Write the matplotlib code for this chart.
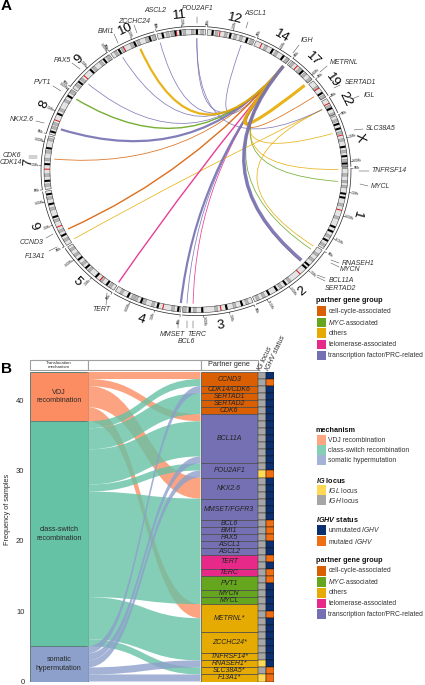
import numpy as np
import matplotlib
matplotlib.use("Agg")
import matplotlib.pyplot as plt
from matplotlib.patches import PathPatch, Rectangle
from matplotlib.path import Path

plt.rcParams["font.family"] = ["Liberation Sans", "DejaVu Sans"]
plt.rcParams["mathtext.fontset"] = "custom"
plt.rcParams["mathtext.rm"] = "Liberation Sans"
plt.rcParams["mathtext.it"] = "Liberation Sans:italic"
plt.rcParams["mathtext.bfit"] = "Liberation Sans:italic:bold"

# circos: chromosomes
chrom_names = ["1", "2", "3", "4", "5", "6", "7", "8", "9", "10", "11", "12", "14", "17", "19", "22", "X"]
chrom_len = [249, 243, 198, 191, 181, 171, 159, 146, 141, 135, 135, 133, 107, 81, 59, 51, 155]
chrom_cen = [125, 93, 91, 50, 48, 60, 60, 45, 48, 40, 54, 35, 18, 24, 26, 15, 60]
chrom_dark = [
    [72, 84, 175, 190, 220],
    [55, 66, 140, 170, 195],
    [28, 72, 140, 175],
    [4, 62, 110, 150],
    [22, 60, 98, 130],
    [28, 88, 128, 158],
    [22, 72, 120],
    [6, 62, 122],
    [22, 70, 118],
    [22, 70, 115],
    [12, 48, 62, 108],
    [12, 62, 110],
    [50, 85],
    [42],
    [40],
    [28],
    [22, 36, 92, 120, 142],
]
chrom_gray = [
    [15, 35, 50, 105, 145, 205, 235],
    [15, 35, 125, 155, 210, 228],
    [12, 48, 100, 160, 188],
    [18, 75, 100, 125, 135, 170],
    [10, 40, 85, 112, 145, 165],
    [12, 42, 75, 112, 145],
    [8, 38, 85, 108, 145],
    [18, 30, 75, 105, 135],
    [10, 32, 80, 105, 130],
    [10, 32, 60, 80, 105, 125],
    [25, 38, 72, 95, 122],
    [22, 48, 75, 92, 122],
    [28, 62, 98],
    [5, 32, 52, 72],
    [18, 50],
    [20, 45],
    [10, 48, 70, 105, 132, 150],
]

# circos: links, one per translocation partner
link_genes = ["TNFRSF14", "MYCL", "RNASEH1", "MYCN", "BCL11A", "SERTAD2", "BCL6", "TERC", "MMSET",
              "TERT", "F13A1", "CCND3", "CDK6", "NKX2.6", "PVT1", "PAX5", "BMI1", "ZCCHC24",
              "ASCL2", "POU2AF1", "POU2AF1", "ASCL1", "METRNL", "SERTAD1", "SLC38A5"]
link_chrom = ["1", "1", "2", "2", "2", "2", "3", "3", "4", "5", "6", "6", "7", "8", "8", "9", "10", "10",
              "11", "11", "11", "12", "17", "19", "X"]
link_mb = [2.5, 40, 3.6, 16, 60.7, 64.8, 187, 169, 1.9, 1.3, 6.2, 41.9, 92, 23.5, 128.8, 37, 22.6, 81,
           2.3, 111, 111, 103, 81, 40, 48]
link_to = ["IGH", "IGH", "IGL", "IGH", "IGH", "IGH", "IGH", "IGH", "IGH", "IGH", "IGL", "IGH", "IGH",
           "IGH", "IGH", "IGH", "IGH", "IGH", "IGH", "IGH", "IGL", "IGH", "IGH", "IGH", "IGH"]
link_n = [1, 1, 1, 1, 7, 1, 1, 1, 3, 2, 1, 2, 1, 3, 2, 1, 1, 3, 1, 1, 1, 1, 4, 1, 1]
link_group = ["others", "myc", "others", "myc", "tf", "cell", "tf", "telo", "tf", "telo", "others", "cell",
              "cell", "tf", "myc", "tf", "tf", "others", "tf", "tf", "tf", "tf", "others", "cell", "others"]
hub_chrom = {"IGH": "14", "IGL": "22"}
hub_mb = {"IGH": 106, "IGL": 22.9}

# sankey: partner genes top to bottom, one letter per sample
gene_names = ["CCND3", "CDK14/CDK6", "SERTAD1", "SERTAD2", "CDK6", "BCL11A", "POU2AF1", "NKX2.6", "MMSET/FGFR3",
              "BCL6", "BMI1", "PAX5", "ASCL1", "ASCL2", "TERT", "TERC", "PVT1", "MYCN", "MYCL",
              "METRNL*", "ZCCHC24*", "TNFRSF14*", "RNASEH1*", "SLC38A5*", "F13A1*"]
gene_group = ["cell"] * 5 + ["tf"] * 9 + ["telo"] * 2 + ["myc"] * 3 + ["others"] * 6
gene_mech = ["VC", "S", "C", "C", "C", "VCCCCCS", "CS", "VVV", "CCC", "C", "C", "C", "C", "C", "CC", "C", "CC",
             "C", "C", "VVCC", "CCC", "C", "S", "C", "S"]
gene_ig = ["HH", "H", "H", "H", "H", "HHHHHHH", "HL", "HHH", "HHH", "H", "H", "H", "H", "H", "HH", "H", "HH",
           "H", "H", "HHHH", "HHH", "H", "L", "H", "L"]
gene_ighv = ["UM", "U", "U", "U", "U", "UUUUUUU", "UM", "UUU", "UUU", "M", "M", "M", "U", "U", "MU", "M", "MU",
             "U", "U", "UMUU", "UUU", "U", "U", "M", "M"]
mech_order = ["V", "C", "S"]
mech_labels = ["VDJ\nrecombination", "class-switch\nrecombination", "somatic\nhypermutation"]
freq_ticks = [0, 10, 20, 30, 40]

# colours
group_colors = {"cell": "#D95F02", "myc": "#66A61E", "others": "#E6AB02", "telo": "#E7298A", "tf": "#7570B3"}
mech_colors = {"V": "#FC8D62", "C": "#66C2A5", "S": "#8DA0CB"}
ig_colors = {"H": "#A6A6A6", "L": "#FFD955"}
ighv_colors = {"U": "#0B2F6F", "M": "#F16F14"}
link_widths = {1: 0.55, 2: 1.0, 3: 1.6, 4: 2.2, 7: 2.5}
text_color = "#2A2A2A"
PX_W, PX_H = 425, 685


def px_axes(fig, left, top, right, bottom):
    return fig.add_axes([left / PX_W, 1 - bottom / PX_H, (right - left) / PX_W, (bottom - top) / PX_H])


def draw_sector(ax, a0, a1, r0, r1, **kw):
    t = np.radians(np.linspace(a0, a1, max(int(abs(a1 - a0) * 4), 2)))
    xs = np.concatenate([r1 * np.cos(t), r0 * np.cos(t[::-1])])
    ys = np.concatenate([r1 * np.sin(t), r0 * np.sin(t[::-1])])
    ax.fill(xs, ys, **kw)


def draw_circos(ax):
    gap = 0.7
    deg_per_mb = (360 - gap * len(chrom_len)) / sum(chrom_len)
    start = {}
    a = 1.0
    for name, n in zip(chrom_names, chrom_len):
        start[name] = a
        a -= n * deg_per_mb + gap

    def angle(chrom, mb):
        return start[chrom] - mb * deg_per_mb

    r0, r1, r_scale = 0.98, 1.02, 1.04
    for i, name in enumerate(chrom_names):
        n = chrom_len[i]
        a0, a1 = angle(name, 0), angle(name, n)
        draw_sector(ax, a0, a1, r0, r1, fc="#E4E4E4", ec="none", lw=0)
        for b in chrom_gray[i]:
            draw_sector(ax, angle(name, b), angle(name, b + 8), r0, r1, fc="#B4B4B4", ec="#555555", lw=0.15)
        for b in chrom_dark[i]:
            draw_sector(ax, angle(name, b), angle(name, b + 6), r0, r1, fc="black", ec="none", lw=0)
        c = chrom_cen[i]
        draw_sector(ax, angle(name, c - 1.5), angle(name, c + 1.5), r0, r1, fc="#E41A1C", ec="none", lw=0)
        draw_sector(ax, a0, a1, r0, r1, fc="none", ec="#333333", lw=0.35)

        # scale line with ticks
        t = np.radians(np.linspace(a0, a1, 60))
        ax.plot(r_scale * np.cos(t), r_scale * np.sin(t), color="#222222", lw=0.5, solid_capstyle="butt")
        for mb in range(0, n + 1, 70):
            ta = np.radians(angle(name, mb))
            ax.plot([r_scale * np.cos(ta), 1.055 * np.cos(ta)], [r_scale * np.sin(ta), 1.055 * np.sin(ta)],
                    color="#222222", lw=0.35)
            rot = angle(name, mb) % 360
            rot = rot + 180 if 90 < rot < 270 else rot
            ax.text(1.08 * np.cos(ta), 1.08 * np.sin(ta), f"{mb}Mb", fontsize=2.3, color=text_color,
                    rotation=rot, rotation_mode="anchor", ha="center", va="center")

        # chromosome number
        mid = (a0 + a1) / 2 % 360
        rot = mid - 90
        if 215 < mid < 330:
            rot += 180
        ax.text(1.125 * np.cos(np.radians(mid)), 1.125 * np.sin(np.radians(mid)), name, fontsize=9.5,
                color="black", rotation=rot, rotation_mode="anchor", ha="center", va="center")

    # links are quadratic curves through the centre
    r_link = 0.955
    order = np.argsort(link_n)
    for k in order:
        a_from = np.radians(angle(link_chrom[k], link_mb[k]))
        a_hub = np.radians(angle(hub_chrom[link_to[k]], hub_mb[link_to[k]]))
        verts = [(r_link * np.cos(a_from), r_link * np.sin(a_from)), (0, 0),
                 (r_link * np.cos(a_hub), r_link * np.sin(a_hub))]
        path = Path(verts, [Path.MOVETO, Path.CURVE3, Path.CURVE3])
        ax.add_patch(PathPatch(path, fc="none", ec=group_colors[link_group[k]], alpha=0.9,
                               lw=link_widths[link_n[k]], capstyle="butt"))

    ax.set_xlim(-1.3, 1.3)
    ax.set_ylim(-1.2, 1.2)
    ax.axis("off")


def flow_path(x0, x1, l_top, l_bot, r_top, r_bot):
    xm = (x0 + x1) / 2
    verts = [(x0, l_top), (xm, l_top), (xm, r_top), (x1, r_top), (x1, r_bot),
             (xm, r_bot), (xm, l_bot), (x0, l_bot), (x0, l_top)]
    codes = [Path.MOVETO, Path.CURVE4, Path.CURVE4, Path.CURVE4, Path.LINETO,
             Path.CURVE4, Path.CURVE4, Path.CURVE4, Path.CLOSEPOLY]
    return Path(verts, codes)


def draw_sankey(ax):
    x_left, x_flow_start, x_flow_end = 0, 57.5, 170.5
    x_gene_end, x_ig_end, x_ighv_end = 228, 235.5, 243.5
    total = sum(len(m) for m in gene_mech)

    # strata on the left
    y = total
    left_top = {}
    for mech, label in zip(mech_order, mech_labels):
        n = "".join(gene_mech).count(mech)
        left_top[mech] = y
        ax.add_patch(Rectangle((x_left, y - n), x_flow_start - x_left, n, fc=mech_colors[mech],
                               ec="#5F7F78", lw=0.7))
        ax.text((x_left + x_flow_start) / 2, y - n / 2, label, ha="center", va="center",
                fontsize=5.2, color=text_color, linespacing=1.35)
        y -= n

    # flows, contiguous samples merged
    for mech in mech_order:
        y_right = total
        y_left = left_top[mech]
        run = None
        for code in "".join(gene_mech) + "#":
            if code == mech:
                if run is None:
                    run = [y_left, y_right, 0]
                run[2] += 1
                y_left -= 1
            elif run is not None:
                ax.add_patch(PathPatch(flow_path(x_flow_start, x_flow_end, run[0], run[0] - run[2],
                                                 run[1], run[1] - run[2]),
                                       fc=mech_colors[mech], ec="none", lw=0, alpha=0.8))
                run = None
            y_right -= 1

    # partner genes and the two sample columns
    y = total
    for name, group, mech, ig, ighv in zip(gene_names, gene_group, gene_mech, gene_ig, gene_ighv):
        n = len(mech)
        ax.add_patch(Rectangle((x_flow_end, y - n), x_gene_end - x_flow_end, n, fc=group_colors[group],
                               ec="#4A4A4A", lw=0.5))
        ax.text((x_flow_end + x_gene_end) / 2, y - n / 2, name, ha="center", va="center", fontsize=5,
                style="italic", color="#222222")
        for j in range(n):
            ax.add_patch(Rectangle((x_gene_end, y - j - 1), x_ig_end - x_gene_end, 1, fc=ig_colors[ig[j]],
                                   ec="#333333", lw=0.35))
            ax.add_patch(Rectangle((x_ig_end, y - j - 1), x_ighv_end - x_ig_end, 1, fc=ighv_colors[ighv[j]],
                                   ec="#111111", lw=0.35))
        y -= n

    # header boxes
    for a, b, label in [(x_left, x_flow_start, "Translocation\nmechanism"), (x_flow_start, x_flow_end, ""),
                        (x_flow_end, x_gene_end, "Partner gene")]:
        ax.add_patch(Rectangle((a, total + 0.25), b - a, 1.5, fc="white", ec="#A0A0A0", lw=0.8, clip_on=False))
        if label:
            ax.text((a + b) / 2, total + 1.0, label, ha="center", va="center", clip_on=False,
                    fontsize=3.2 if "\n" in label else 5.2, color=text_color)
    ax.text(x_gene_end + 2, total + 0.2, "IG locus", rotation=65, rotation_mode="anchor", ha="left",
            va="center", fontsize=5, style="italic", color=text_color)
    ax.text(x_ig_end + 2, total + 0.2, "IGHV status", rotation=65, rotation_mode="anchor", ha="left",
            va="center", fontsize=5, style="italic", color=text_color)

    ax.set_xlim(x_left, x_ighv_end)
    ax.set_ylim(0, total)
    ax.set_xticks([])
    ax.set_yticks(freq_ticks)
    ax.tick_params(axis="y", length=0, labelsize=5.5, labelcolor=text_color, pad=4)
    ax.set_ylabel("Frequency of samples", fontsize=5.2, color=text_color, labelpad=3.5, y=0.555)
    for side in ax.spines:
        ax.spines[side].set_visible(False)


def draw_annotations(ax):
    # gene names round the circos and their short leader lines
    gene_text = [("ASCL2", 155, 10), ("POU2AF1", 198, 8), ("ZCCHC24", 134, 21), ("BMI1", 106, 31), ("PAX5", 62, 60),
                 ("PVT1", 42, 82), ("NKX2.6", 22, 119), ("CDK6", 12, 155), ("CDK14", 11, 162), ("CCND3", 32, 242),
                 ("F13A1", 35, 256), ("TERT", 101, 309), ("MMSET", 172, 334), ("TERC", 197, 334), ("BCL6", 186, 341),
                 ("RNASEH1", 358, 263), ("MYCN", 350, 269), ("BCL11A", 341, 280), ("SERTAD2", 340, 288),
                 ("MYCL", 380, 186), ("TNFRSF14", 389, 170), ("SLC38A5", 381, 128), ("IGL", 369, 95),
                 ("SERTAD1", 360, 82), ("METRNL", 344, 62), ("IGH", 307, 40), ("ASCL1", 255, 13)]
    for name, x, y in gene_text:
        ax.text(x, y, name, ha="center", va="center", fontsize=5, style="italic", color="#333333")
    leaders = [(155, 24, 157, 28), (197, 17, 197, 23), (134, 25, 137, 33), (114, 34, 118, 43), (72, 63, 80, 69),
               (53, 86, 61, 91), (36, 121, 44, 123), (29, 156, 37, 156), (29, 158, 37, 158), (46, 238, 53, 234),
               (49, 251, 57, 247), (106, 305, 107, 293), (178, 328, 178, 321), (187, 328, 187, 321),
               (193, 328, 193, 321), (331, 260, 339, 263), (331, 263, 339, 267), (317, 275, 325, 278),
               (317, 277, 325, 281), (360, 184, 368, 186), (359, 171, 369, 171), (354, 130, 363, 129),
               (352, 99, 359, 96), (334, 88, 340, 85), (320, 72, 327, 66), (293, 53, 299, 45), (246, 28, 248, 22)]
    for x0, y0, x1, y1 in leaders:
        ax.plot([x0, x1], [y0, y1], color="#444444", lw=0.35)

    ax.text(1, 6, "A", fontsize=11, fontweight="bold", ha="left", va="center", color="black")
    ax.text(1, 369, "B", fontsize=11, fontweight="bold", ha="left", va="center", color="black")

    group_items = [(group_colors["cell"], "cell-cycle-associated"), (group_colors["myc"], "$\\mathit{MYC}$-associated"),
                   (group_colors["others"], "others"), (group_colors["telo"], "telomerase-associated"),
                   (group_colors["tf"], "transcription factor/PRC-related")]
    mech_items = [("#FFA584", "VDJ recombination"), ("#85CFB7", "class-switch recombination"), ("#A5B3D6", "somatic hypermutation")]
    ig_items = [(ig_colors["L"], "$\\mathit{IGL}$ locus"), (ig_colors["H"], "$\\mathit{IGH}$ locus")]
    ighv_items = [(ighv_colors["U"], "unmutated $\\mathit{IGHV}$"), (ighv_colors["M"], "mutated $\\mathit{IGHV}$")]
    legends = [("partner gene group", 300, [311, 322.5, 333, 344.5, 355.5], group_items),
               ("mechanism", 430, [440, 450, 460], mech_items),
               ("$\\mathbfit{IG}$ locus", 480, [490, 500], ig_items),
               ("$\\mathbfit{IGHV}$ status", 519, [530, 541], ighv_items),
               ("partner gene group", 560, [571, 582, 593, 603.5, 614], group_items)]
    for title, y_title, ys, items in legends:
        ax.text(316, y_title, title, fontsize=5.2, fontweight="bold", ha="left", va="center", color="#111111")
        for y, (color, label) in zip(ys, items):
            ax.add_patch(Rectangle((317, y - 4.7), 9.5, 9.4, fc=color, ec="none"))
            ax.text(328.5, y, label, fontsize=4.85, ha="left", va="center", color="#333333")

    ax.set_xlim(0, PX_W)
    ax.set_ylim(PX_H, 0)
    ax.axis("off")


fig = plt.figure(figsize=(PX_W / 100, PX_H / 100), dpi=100)
ax_a = px_axes(fig, 196 - 149 * 1.3, 171 - 139 * 1.2, 196 + 149 * 1.3, 171 + 139 * 1.2)
draw_circos(ax_a)
ax_b = px_axes(fig, 30, 372, 273.5, 681.5)
draw_sankey(ax_b)
ax_c = fig.add_axes([0, 0, 1, 1], facecolor="none")
draw_annotations(ax_c)
fig.savefig("out.png", dpi=100)
plt.close(fig)
